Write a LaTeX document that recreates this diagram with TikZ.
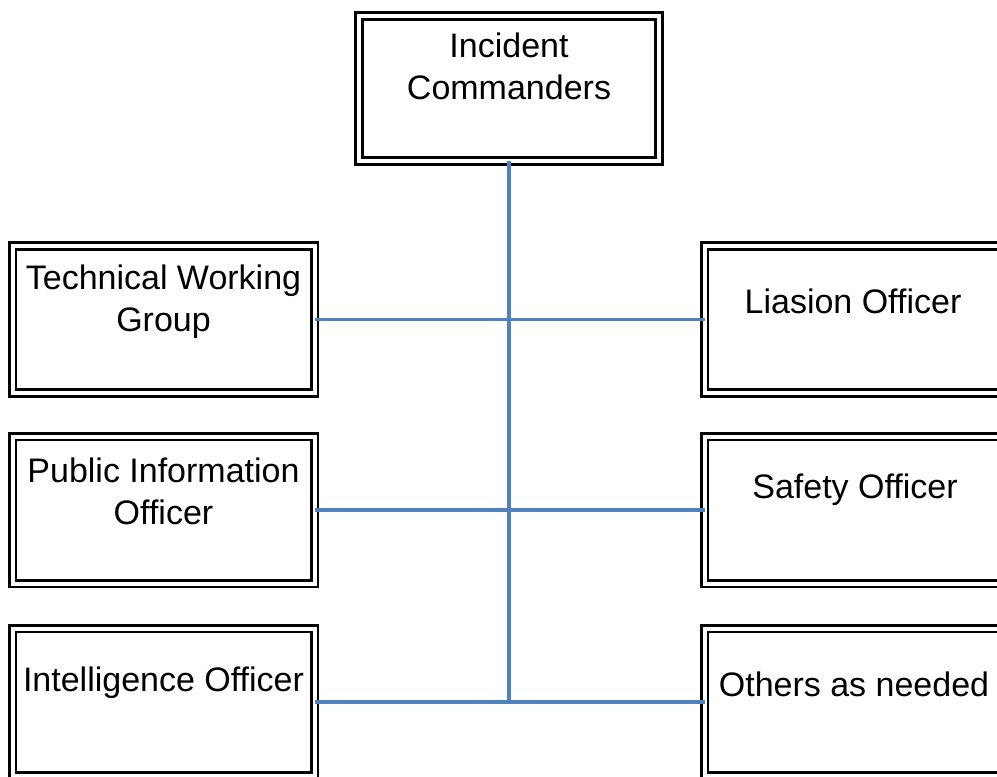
\documentclass[tikz,border=0pt]{standalone}
\usepackage{fontspec}
\setmainfont{Liberation Sans}
\definecolor{linkblue}{RGB}{79,129,189}
\begin{document}
\begin{tikzpicture}[x=1pt,y=-1pt,
  orgbox/.style={draw=black,line width=2.6pt,double=white,double distance=4pt,
    minimum width=302pt,minimum height=147pt,inner sep=0pt,outer sep=0pt},
  lbl/.style={font=\fontsize{34}{42}\selectfont,align=center,inner sep=0pt},
  link/.style={draw=linkblue,line width=3.2pt}]
\useasboundingbox (0,0) rectangle (997,777);
\clip (0,0) rectangle (997,777);
\fill[white] (0,0) rectangle (997,777);
% boxes
\node[orgbox,minimum width=300pt,minimum height=145pt] (top) at (509,88.5) {};
\node[orgbox] (L1) at (163.5,319.5) {};
\node[orgbox] (L2) at (163.5,510) {};
\node[orgbox] (L3) at (163.5,702) {};
\node[orgbox] (R1) at (855.5,319.5) {};
\node[orgbox] (R2) at (855.5,510) {};
\node[orgbox] (R3) at (855.5,702) {};
% labels
\node[lbl] (tTop) at (509,66) {Incident\\Commanders};
\node[lbl] (tL1) at (163.5,302) {Technical Working\\Group};
\node[lbl] (tL2) at (163.5,491) {Public Information\\Officer};
\node[lbl] (tL3) at (163.5,683) {Intelligence Officer};
\node[lbl] (tR1) at (853,301) {Liasion Officer};
\node[lbl] (tR2) at (855,490) {Safety Officer};
\node[lbl] (tR3) at (854,684) {Others as needed};
% connectors
\coordinate (j3) at (top.south |- L3.east);
\draw[link] (top.south) -- (j3);
\draw[link] (L1.east) -- (R1.west);
\draw[link] (L2.east) -- (R2.west);
\draw[link] (L3.east) -- (R3.west);
\end{tikzpicture}
\end{document}
